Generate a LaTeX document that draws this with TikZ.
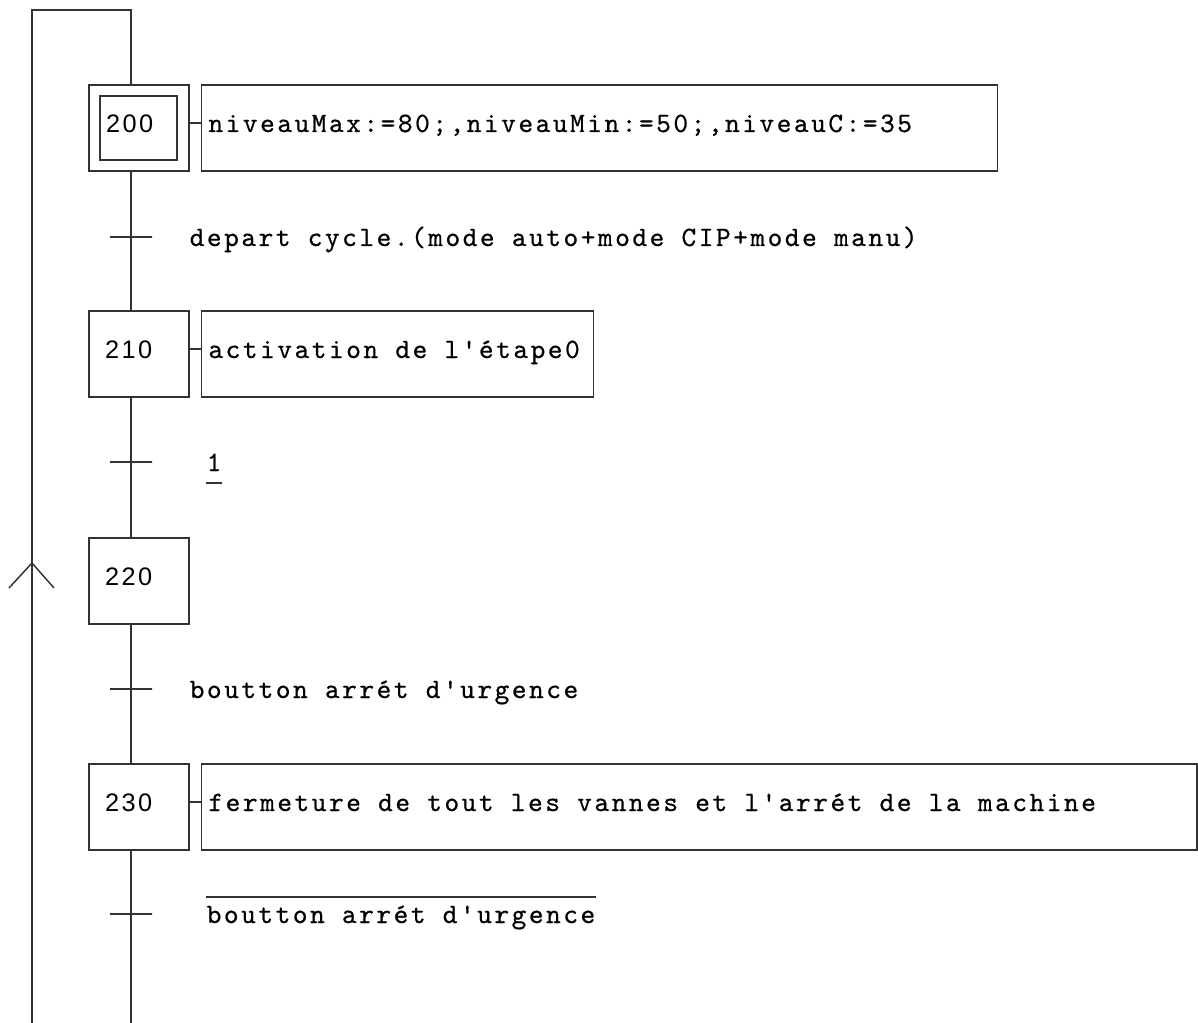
\documentclass[tikz,border=0pt]{standalone}
\usepackage{fontspec}
\usetikzlibrary{positioning}
\newfontfamily\stepfam{Liberation Sans}[LetterSpace=10]
\newfontfamily\grafmono{lmmono10-regular.otf}[LetterSpace=9, FakeBold=0.6]
\newcommand\stepnum{\stepfam\fontsize{19pt}{22pt}\selectfont}
\newcommand\grafcettxt{\grafmono\fontsize{21pt}{24pt}\selectfont}
\newcommand\acttext[2]{\makebox[#1][l]{#2}}

\begin{document}
\begin{tikzpicture}[
    x=0.75pt, y=-0.75pt,
    line width=1.1pt, draw=black!80,
    stepbox/.style={rectangle, draw, minimum width=75pt, minimum height=64.5pt, inner xsep=12pt, text width=51pt, text height=13.6pt, text depth=7.5pt, align=left, font=\stepnum},
    initbox/.style={rectangle, draw, minimum width=57.75pt, minimum height=48pt, inner xsep=4.5pt, text width=48.75pt, text height=13.6pt, text depth=7.5pt, align=left, font=\stepnum},
    act/.style={rectangle, draw, minimum height=64.5pt, inner xsep=5.25pt, text height=9pt, text depth=3pt, font=\grafcettxt},
    trans/.style={rectangle, draw, minimum width=31.5pt, minimum height=0pt, inner sep=0pt, outer sep=0pt},
    recep/.style={inner sep=0pt, text height=16.5pt, text depth=3pt, font=\grafcettxt}
]
\useasboundingbox (0,0) rectangle (1198,1023);

% Steps
\node[stepbox] (s200) at (139,128) {};
\node[initbox] (s200in) at (138.5,128) {200};
\node[stepbox] (s210) at (139,354) {210};
\node[stepbox] (s220) at (139,581) {220};
\node[stepbox] (s230) at (139,807) {230};

% Actions
\node[act, right=8.25pt of s200] (a200) {\acttext{586.5pt}{niveauMax:=80;,niveauMin:=50;,niveauC:=35}};
\node[act, right=8.25pt of s210] (a210) {\acttext{283.5pt}{activation de l'étape0}};
\node[act, right=8.25pt of s230] (a230) {\acttext{736pt}{fermeture de tout les vannes et l'arrét de la machine}};

% Transitions
\coordinate (spine) at (131,0);
\node[trans] (t1) at (131,237) {};
\node[trans] (t2) at (131,462) {};
\node[trans] (t3) at (131,689) {};
\node[trans] (t4) at (131,914) {};

\node[recep, right=27.75pt of t1] (r1) {depart cycle.(mode auto+mode CIP+mode manu)};
\node[recep, right=40.5pt of t2] (r2) {1};
\node[recep, right=27.75pt of t3] (r3) {boutton arrét d'urgence};
\node[recep, right=40.5pt of t4] (r4) {boutton arrét d'urgence};
\draw ([yshift=-9pt]r2.base west) -- ([yshift=-9pt]r2.base east);
\draw ([yshift=19.5pt]r4.base west) -- ([yshift=19.5pt]r4.base east);

% Links
\draw ([yshift=3.75pt]s200.east) -- ([yshift=3.75pt]a200.west);
\draw ([yshift=3.75pt]s210.east) -- ([yshift=3.75pt]a210.west);
\draw ([yshift=3.75pt]s230.east) -- ([yshift=3.75pt]a230.west);
\draw (spine |- s200.south) -- (t1.center) -- (spine |- s210.north);
\draw (spine |- s210.south) -- (t2.center) -- (spine |- s220.north);
\draw (spine |- s220.south) -- (t3.center) -- (spine |- s230.north);
\coordinate (bot) at (131,1023);
\draw (spine |- s230.south) -- (t4.center) -- (bot);

% Loop back
\coordinate (loopB) at (32,1023);
\coordinate (loopT) at (32,10);
\coordinate (up) at (32,563);
\draw (loopB) -- (loopT) -| (spine |- s200.north);
\draw (up) ++(-23,25) -- (up) -- ++(22,25);

\end{tikzpicture}
\end{document}
